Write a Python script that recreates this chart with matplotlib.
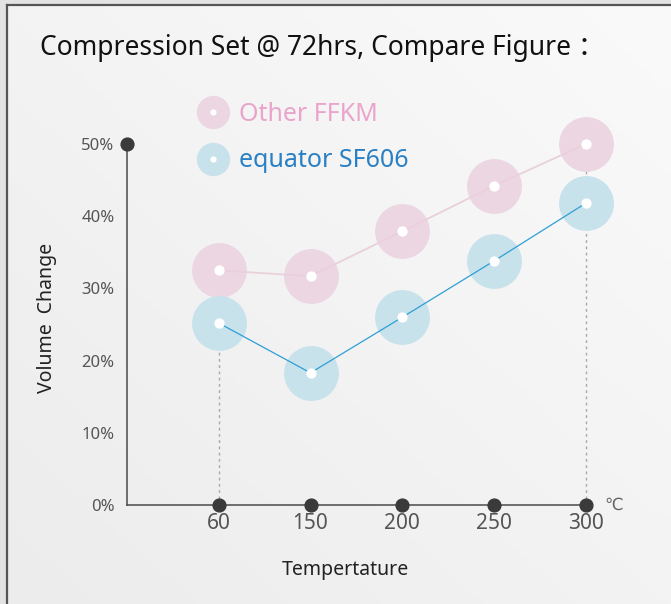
import numpy as np
import matplotlib
matplotlib.use("Agg")
import matplotlib.pyplot as plt
from matplotlib.lines import Line2D
from matplotlib.legend_handler import HandlerTuple
from matplotlib.patches import Rectangle
from matplotlib.colors import LinearSegmentedColormap

# data
temps = ["60", "150", "200", "250", "300"]
other_ffkm = [32.5, 31.7, 37.9, 44.2, 50.0]
equator_sf606 = [25.2, 18.3, 26.0, 33.8, 41.8]
y_ticks = [0, 10, 20, 30, 40, 50]
series_names = ["Other FFKM", "equator SF606"]

W, H = 671, 604
PINK_FILL = "#ecd6e2"
BLUE_FILL = "#c8e2ec"
PINK_LINE = "#ead0dc"
BLUE_LINE = "#2d9fd6"
PINK_TEXT = "#eaa4cb"
BLUE_TEXT = "#2a80c4"
AXIS = "#4a4a4a"

plt.rcParams["font.family"] = ["Noto Sans", "Noto Sans CJK SC", "DejaVu Sans"]

fig = plt.figure(figsize=(W / 100, H / 100), dpi=100)

# background with soft gradient and the cut-off frame
bg = fig.add_axes([0, 0, 1, 1], zorder=-10)
gx = np.linspace(0, 1, 200)
gy = np.linspace(0, 1, 200)
GX, GY = np.meshgrid(gx, gy)
grad = 0.5 * GX + 0.5 * (1 - GY)
bg_cmap = LinearSegmentedColormap.from_list("bg", ["#ececec", "#fafafa"])
bg.imshow(grad, extent=[0, W, H, 0], cmap=bg_cmap, aspect="auto")
bg.add_patch(Rectangle((0, 0), 6, H, color="#e3e3e3", lw=0))
bg.add_patch(Rectangle((0, 0), W, 4, color="#e3e3e3", lw=0))
bg.plot([7, 7], [5, H], color="#555555", lw=1.6)
bg.plot([7, W], [5, 5], color="#555555", lw=1.6)
bg.set_xlim(0, W)
bg.set_ylim(H, 0)
bg.axis("off")

# main chart axes (placed so the categories sit on the reference spots)
x_step = 91.75
left_px, bottom_px = 127.0, 505.0
xmax, ymax = 5.4, 60
px_per_pct = 7.22
ax = fig.add_axes([left_px / W, (H - bottom_px) / H,
                   xmax * x_step / W, ymax * px_per_pct / H])
ax.set_facecolor("none")

x = np.arange(1, len(temps) + 1)

# guide lines from first / last points
ax.plot([x[0], x[0]], [0, other_ffkm[0]], color="#a8a8a8", lw=1, ls=(0, (2, 2.5)), zorder=1)
ax.plot([x[-1], x[-1]], [0, other_ffkm[-1]], color="#a8a8a8", lw=1, ls=(0, (2, 2.5)), zorder=1)

ax.scatter(x, other_ffkm, s=1560, color=PINK_FILL, lw=0, zorder=2, clip_on=False)
ax.plot(x, other_ffkm, color=PINK_LINE, lw=1.3, zorder=3)
ax.scatter(x, equator_sf606, s=1560, color=BLUE_FILL, lw=0, zorder=4, clip_on=False)
ax.plot(x, equator_sf606, color=BLUE_LINE, lw=0.9, zorder=5)
ax.scatter(x, other_ffkm, s=55, color="white", lw=0, zorder=6, clip_on=False)
ax.scatter(x, equator_sf606, s=55, color="white", lw=0, zorder=6, clip_on=False)

# axis dots
ax.scatter(x, np.zeros(len(x)), s=85, color="#3a3a3a", zorder=7, clip_on=False)
ax.scatter([0], [y_ticks[-1]], s=85, color="#3a3a3a", zorder=7, clip_on=False)

ax.set_xlim(0, xmax)
ax.set_ylim(0, ymax)
ax.spines["top"].set_visible(False)
ax.spines["right"].set_visible(False)
for side in ("left", "bottom"):
    ax.spines[side].set_color(AXIS)
    ax.spines[side].set_linewidth(1.1)
ax.spines["bottom"].set_bounds(0, len(temps))
ax.spines["left"].set_bounds(0, y_ticks[-1])

ax.set_xticks(x)
ax.set_xticklabels(temps, fontsize=15, color="#555555")
ax.set_yticks(y_ticks)
ax.set_yticklabels([f"{v}%" for v in y_ticks], fontsize=12, color="#555555")
ax.tick_params(axis="x", length=0, pad=6)
ax.tick_params(axis="y", length=0, pad=9)

ax.text(len(temps) + 0.2, 0, "℃", fontsize=12, color="#666666",
        ha="left", va="center", family=["DejaVu Sans"])

fig.text(345 / W, 1 - 570 / H, "Tempertature", fontsize=14, color="#222222",
         ha="center", va="center")
fig.text(47 / W, 1 - 318 / H, "Volume  Change", fontsize=14, color="#222222",
         ha="center", va="center", rotation=90)
fig.text(40 / W, 1 - 48 / H, "Compression Set @ 72hrs, Compare Figure ：", fontsize=19,
         color="#111111", ha="left", va="center")

# legend: big faded circle with a white dot
handles = [
    (Line2D([], [], marker="o", ls="", ms=24, color=PINK_FILL, mew=0),
     Line2D([], [], marker="o", ls="", ms=4.5, color="white", mew=0)),
    (Line2D([], [], marker="o", ls="", ms=24, color=BLUE_FILL, mew=0),
     Line2D([], [], marker="o", ls="", ms=4.5, color="white", mew=0)),
]
leg = fig.legend(handles, series_names, handler_map={tuple: HandlerTuple(ndivide=1)},
                 loc="upper left", bbox_to_anchor=(199 / W, 1 - 102 / H),
                 frameon=False, fontsize=18, handlelength=1.1, handletextpad=0.5,
                 borderpad=0, borderaxespad=0, labelspacing=0.85)
for txt, c in zip(leg.get_texts(), [PINK_TEXT, BLUE_TEXT]):
    txt.set_color(c)

fig.savefig("out.png", dpi=100)
